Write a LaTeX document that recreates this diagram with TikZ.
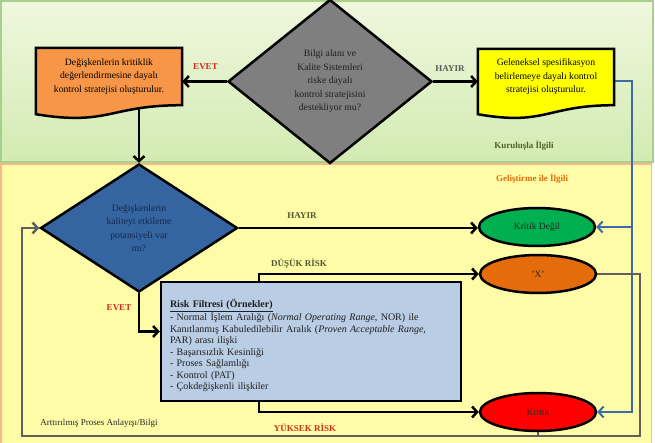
\documentclass[tikz,border=0pt]{standalone}
\usepackage{fontspec}
\setmainfont{Liberation Serif}
\usetikzlibrary{shapes.geometric,arrows.meta,calc}
\pgfdeclarelayer{bg}
\pgfdeclarelayer{conn}
\pgfdeclarelayer{shp}
\pgfsetlayers{bg,conn,shp,main}
\definecolor{greenT}{HTML}{F0F7DE}
\definecolor{greenB}{HTML}{D2EBB2}
\definecolor{greenBd}{HTML}{A8D08D}
\definecolor{yellowBg}{HTML}{FFFCA8}
\definecolor{orangeBd}{HTML}{F6B88C}
\definecolor{grayDia}{HTML}{7F7F7F}
\definecolor{orangeDoc}{HTML}{F79646}
\definecolor{yellowDoc}{HTML}{FFFF00}
\definecolor{blueDia}{HTML}{3565A0}
\definecolor{blueTxt}{HTML}{14284B}
\definecolor{greenEl}{HTML}{00B050}
\definecolor{orangeEl}{HTML}{E46C0A}
\definecolor{redEl}{HTML}{FF0000}
\definecolor{riskBox}{HTML}{B9CDE5}
\definecolor{labRed}{HTML}{CC2A1E}
\definecolor{labOlive}{HTML}{55592F}
\definecolor{labGray}{HTML}{5A5A5A}
\definecolor{labOrange}{HTML}{E46C0A}
\definecolor{kurOlive}{HTML}{4F6228}
\definecolor{blueLine}{HTML}{3E6BA6}
\definecolor{grayLine}{HTML}{5F5F5F}
\newcommand{\mydocshape}[2]{%
  \filldraw[fill=#2, line width=2.5pt] (#1.north west) -- (#1.north east) -- (#1.south east)
    .. controls ($(#1.south)$) and ($(#1.south)+(0,21)$) .. ($(#1.south west)+(0,9)$) -- cycle;}
\begin{document}
\begin{tikzpicture}[x=1pt,y=-1pt,
  txt/.style={font=\fontsize{9.7}{13.5}\selectfont, align=center},
  diam/.style={diamond, draw=black, line width=2.5pt, inner sep=0pt, txt},
  docnode/.style={rectangle, inner sep=0pt, txt},
  elli/.style={ellipse, draw=black, line width=2.5pt, minimum width=116pt, minimum height=38pt, inner sep=0pt, font=\fontsize{9.5}{11}\selectfont, text=black!85},
  conn/.style={line width=2.5pt, black},
  tip/.style={-{Straight Barb[length=5pt,width=11pt]}},
  lab/.style={font=\fontsize{9}{10}\selectfont\bfseries},
]
\useasboundingbox (0,0) rectangle (655,443);
% panels
\begin{pgfonlayer}{bg}
  \shade[top color=greenT, bottom color=greenB] (1,1) rectangle (653,162);
  \draw[greenBd, line width=1.5pt] (1,1) rectangle (653,162);
  \fill[yellowBg] (1,164) rectangle (652,446);
  \draw[orangeBd, line width=1.8pt] (1.2,446) -- (1.2,164) -- (651.5,164) -- (651.5,446);
\end{pgfonlayer}

% nodes
\node[diam, fill=grayDia, text=black!88, minimum width=204pt, minimum height=164pt] (d1) at (330,81.5)
  {Bilgi alanı ve\\Kalite Sistemleri\\riske dayalı\\kontrol stratejisini\\destekliyor mu?};
\node[docnode, minimum width=146pt, minimum height=57pt] (o1) at (109,76.5)
  {Değişkenlerin kritiklik\\değerlendirmesine dayalı\\kontrol stratejisi oluşturulur.};
\node[docnode, minimum width=136pt, minimum height=56pt] (y1) at (546,77)
  {Geleneksel spesifikasyon\\belirlemeye dayalı kontrol\\stratejisi oluşturulur.};
\node[diam, fill=blueDia, text=blueTxt, minimum width=197pt, minimum height=128pt] (d2) at (139,228)
  {Değişkenlerin\\kaliteyi etkileme\\potansiyeli var\\mı?};
\node[elli, fill=greenEl] (kd) at (537,227) {Kritik Değil};
\node[elli, fill=orangeEl] (xx) at (538,274) {'X'};
\node[elli, fill=redEl] (kr) at (538,412) {Kritik};
\node[rectangle, draw=black, line width=2.5pt, fill=riskBox, minimum width=300pt, minimum height=111pt,
  text width=282pt, inner sep=9pt, align=left, font=\fontsize{10}{11.5}\selectfont, text=black!88] (rb) at (311,341.5)
  {\rule{0pt}{16pt}\underline{\textbf{Risk Filtresi (Örnekler)}}\\
   - Normal İşlem Aralığı (\textit{Normal Operating Range}, NOR) ile\\
   Kanıtlanmış Kabuledilebilir Aralık (\textit{Proven Acceptable Range},\\
   PAR) arası ilişki\\
   - Başarısızlık Kesinliği\\
   - Proses Sağlamlığı\\
   - Kontrol (PAT)\\
   - Çokdeğişkenli ilişkiler};

% document shapes
\begin{pgfonlayer}{shp}
  \mydocshape{o1}{orangeDoc}
  \mydocshape{y1}{yellowDoc}
\end{pgfonlayer}

% helper coordinates for loops
\coordinate (bj) at (632,227);
\coordinate (gr) at (640,436);
\coordinate (gl) at (22,436);

% connectors
\begin{pgfonlayer}{conn}
  \draw[conn, tip] (d1.west) -- (d1.west -| o1.east);
  \draw[conn, tip] (d1.east) -- (d1.east -| y1.west);
  \draw[conn, tip] (o1.south -| d2.north) -- (d2.north);
  \draw[conn, tip] (d2.east) -- (d2.east -| kd.west);
  \draw[conn, tip] (d2.south) |- ([yshift=10pt]rb.west);
  \draw[conn, tip] ([xshift=-52pt]rb.north) |- (xx.west);
  \draw[conn, tip] ([xshift=-52pt]rb.south) |- (kr.west);
  \draw[blueLine, line width=2pt, tip] ([yshift=-4pt]y1.east) -| (bj) |- (kr.east);
  \draw[blueLine, line width=2pt, tip] (bj) -- (bj -| kd.east);
  \draw[grayLine, line width=2.5pt, tip] (xx.east) -| (gr) -- (gl) |- (d2.west);
  \draw[grayLine, line width=2.5pt] (kr.south) -- (kr.south |- gr);
\end{pgfonlayer}

% labels
\node[lab, text=labRed] (l1) at (205.5,67) {EVET};
\node[lab, text=labGray] (l2) at (450,69) {HAYIR};
\node[lab, text=kurOlive] (l3) at (524,146) {Kuruluşla İlgili};
\node[lab, text=labOrange] (l4) at (532,179) {Geliştirme ile İlgili};
\node[lab, text=labOlive] (l5) at (302,216) {HAYIR};
\node[lab, text=labOlive] (l6) at (299,264) {DÜŞÜK RİSK};
\node[lab, text=labRed] (l7) at (119,308) {EVET};
\node[lab, text=labRed!90!orange] (l8) at (305,428) {YÜKSEK RİSK};
\node[font=\fontsize{9}{10}\selectfont, text=black!85] (l9) at (99,423) {Arttırılmış Proses Anlayışı/Bilgi};
\end{tikzpicture}
\end{document}
